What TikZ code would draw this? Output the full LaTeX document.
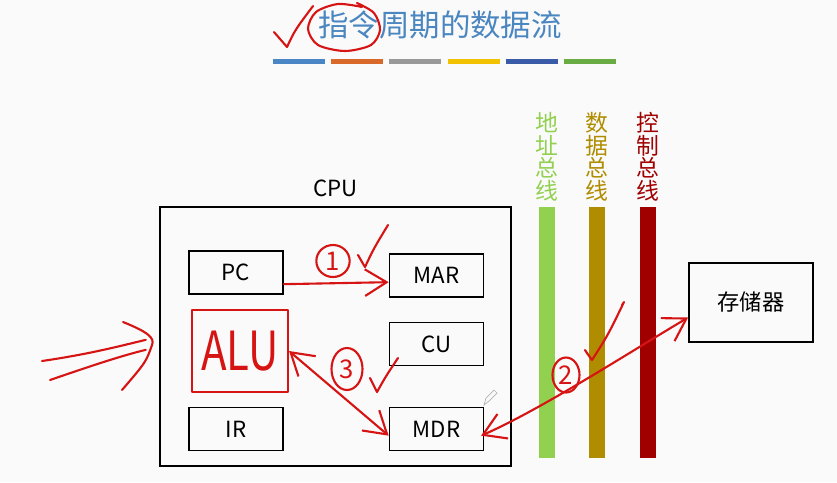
\documentclass[tikz,border=0pt]{standalone}
\usepackage{fontspec}
\setmainfont{Noto Sans CJK SC}
\usepackage{graphicx}
\definecolor{titleblue}{RGB}{74,134,192}
\definecolor{barblue}{RGB}{74,134,198}
\definecolor{barorange}{RGB}{217,105,43}
\definecolor{bargray}{RGB}{153,153,153}
\definecolor{baryellow}{RGB}{242,193,0}
\definecolor{bardarkblue}{RGB}{58,92,168}
\definecolor{bargreen}{RGB}{106,172,68}
\definecolor{addrgreen}{RGB}{146,208,80}
\definecolor{datagold}{RGB}{176,140,0}
\definecolor{ctrlred}{RGB}{160,0,0}
\definecolor{inkred}{RGB}{215,20,20}
\usetikzlibrary{arrows.meta,positioning,calc,shapes.geometric}

\begin{document}
\begin{tikzpicture}[x=0.3mm,y=-0.3mm,
  >={Straight Barb[length=6.5mm,width=8mm]},
  regbox/.style={draw, line width=1.5pt, minimum width=28.2mm, minimum height=12.9mm, font=\fontsize{19}{20}\selectfont},
  busbar/.style={minimum width=4.8mm, minimum height=75.3mm, inner sep=0pt},
  buslabel/.style={align=center, inner sep=0pt, font=\fontsize{19.5}{19.5}\selectfont},
  ink/.style={draw=inkred, line width=1.8pt, line cap=round, line join=round},
  inkmark/.style={ink, ellipse, inner sep=0pt, text=inkred, font=\fontsize{22}{22}\selectfont}]
  \useasboundingbox (0,0) rectangle (837,482);
  \fill[gray!4] (0,0) rectangle (837,482);

  %--- Title ---
  \node[font=\fontsize{26}{26}\selectfont, text=titleblue] (title) at (440,25) {指令周期的数据流};
  \foreach \c [count=\i from 0] in {barblue,barorange,bargray,baryellow,bardarkblue,bargreen}
    \fill[\c] ({273+58.2*\i},59) rectangle ++(52,5);

  %--- CPU ---
  \node[draw, line width=1.5pt, minimum width=105.3mm, minimum height=77.7mm] (cpu) at (335.5,336.5) {};
  \node[above=1.5mm of cpu, font=\fontsize{19}{20}\selectfont] (cpulabel) {CPU};
  \node[regbox] (pc) at (236,272.5) {PC};
  \node[regbox] (mar) at (436.5,275.5) {MAR};
  \node[regbox] (cu) at (436.5,344) {CU};
  \node[regbox] (ir) at (236,429) {IR};
  \node[regbox] (mdr) at (436.5,429) {MDR};

  %--- Buses ---
  \node[busbar, fill=addrgreen] (addrbus) at (547,332.5) {};
  \node[busbar, fill=datagold] (databus) at (597,332.5) {};
  \node[busbar, fill=ctrlred] (ctrlbus) at (647.5,332.5) {};
  \node[buslabel, text=addrgreen, above=1.5mm of addrbus] (addrlabel) {地\\址\\总\\线};
  \node[buslabel, text=datagold, above=1.5mm of databus] (datalabel) {数\\据\\总\\线};
  \node[buslabel, text=ctrlred, above=1.5mm of ctrlbus] (ctrllabel) {控\\制\\总\\线};

  %--- Memory ---
  \node[draw, line width=1.5pt, minimum width=37.2mm, minimum height=23.7mm, font=\fontsize{19}{20}\selectfont] (mem) at (751,302.5) {存储器};

  %--- Hand annotations ---
  \draw[ink] (274,32) .. controls (280,40) .. (287,47) .. controls (295,30) .. (313,6);
  \draw[ink] plot[smooth] coordinates {(357,3) (374,13) (380,30) (371,45) (345,51) (318,45) (308,29) (316,12) (338,4) (362,7)};

  \node[ink, minimum width=28.8mm, minimum height=24.6mm, text=inkred, font=\fontsize{46}{46}\selectfont] (alu) at (240,351) {\scalebox{0.78}[1]{ALU}};

  \node[inkmark, minimum width=10mm, minimum height=9.6mm] (one) at (333,261) {1};
  \node[inkmark, minimum width=9.3mm, minimum height=12.6mm] (three) at (347,369) {3};
  \node[inkmark, minimum width=8.1mm, minimum height=10.5mm] (two) at (566,375) {2};

  \draw[ink] (358,255) .. controls (362,262) .. (365,267) .. controls (374,248) .. (388,225);
  \draw[ink] (370,378) .. controls (374,386) .. (377,392) .. controls (386,376) .. (398,358);
  \draw[ink] (585,350) .. controls (589,356) .. (592,360) .. controls (608,335) .. (624,302) -- (622,305);

  \draw[ink,->] ([yshift=-3.5mm]pc.east) -- ([yshift=-2mm]mar.west);
  \draw[ink,<->] (alu.east) -- ([yshift=-2mm]mdr.west);
  \draw[ink,<->] ([xshift=-1mm,yshift=-2mm]mdr.east) .. controls (540,410) and (630,352) .. ([yshift=-4.5mm]mem.west);

  \coordinate (inA) at (42,361);
  \coordinate (inB) at (50,380);
  \draw[ink] (inA) .. controls (90,354) and (120,346) .. ([xshift=-4mm,yshift=-1mm]cpu.west);
  \draw[ink] (inB) .. controls (85,368) and (120,356) .. ([xshift=-4mm,yshift=-4mm]cpu.west);
  \draw[ink] (123,322) .. controls (148,332) and (155,338) .. (152,345) .. controls (146,362) .. (122,390);

  % cursor
  \draw[gray!60, line width=0.6pt] (484,405) -- (486,398) -- (494,390) -- (497,393) -- (489,401) -- cycle;
\end{tikzpicture}
\end{document}
